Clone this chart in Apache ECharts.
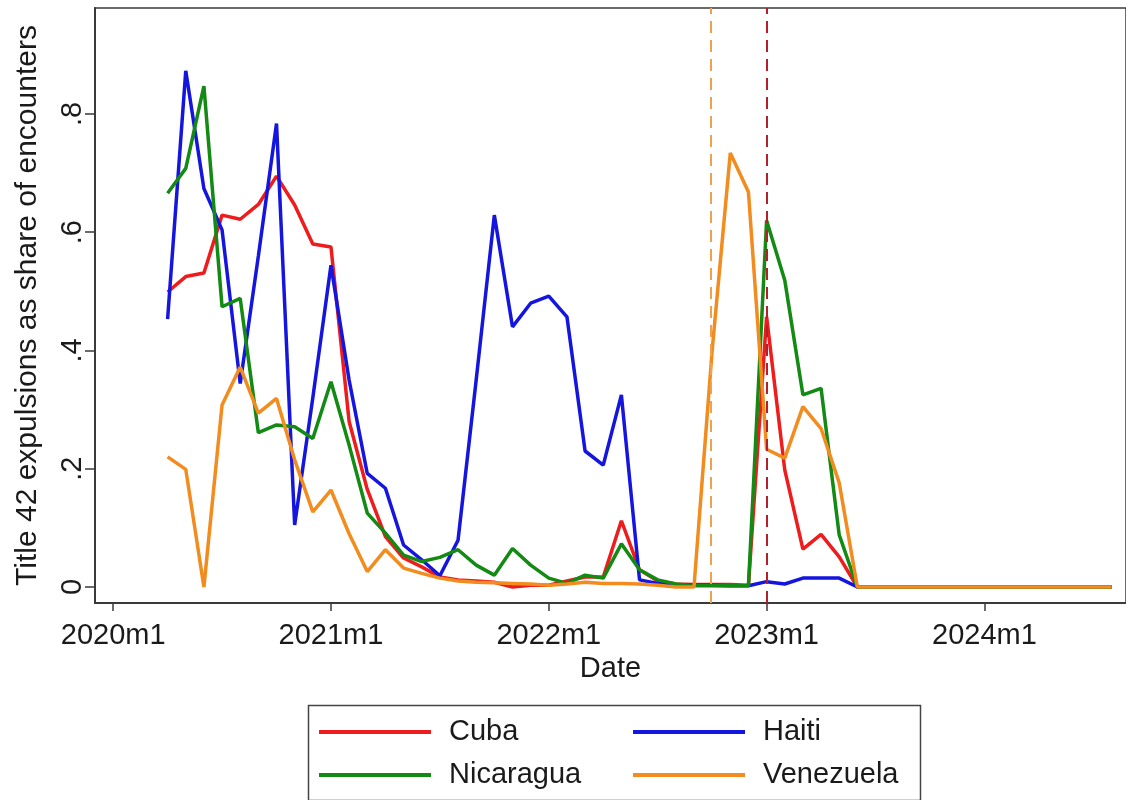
<!DOCTYPE html>
<html>
<head>
<meta charset="utf-8">
<script src="https://cdn.jsdelivr.net/npm/echarts@6/dist/echarts.min.js"></script>
<style>
  html, body { margin: 0; padding: 0; background: #fff; }
  #chart { width: 1126px; height: 800px; }
</style>
</head>
<body>
<div id="chart"></div>
<script>
// months 2020m4 .. 2024m8
const months = [
  '2020m4', '2020m5', '2020m6', '2020m7', '2020m8', '2020m9', '2020m10', '2020m11', '2020m12',
  '2021m1', '2021m2', '2021m3', '2021m4', '2021m5', '2021m6', '2021m7', '2021m8', '2021m9', '2021m10', '2021m11', '2021m12',
  '2022m1', '2022m2', '2022m3', '2022m4', '2022m5', '2022m6', '2022m7', '2022m8', '2022m9', '2022m10', '2022m11', '2022m12',
  '2023m1', '2023m2', '2023m3', '2023m4', '2023m5', '2023m6', '2023m7', '2023m8', '2023m9', '2023m10', '2023m11', '2023m12',
  '2024m1', '2024m2', '2024m3', '2024m4', '2024m5', '2024m6', '2024m7', '2024m8'
]

const cuba = [
  0.499, 0.525, 0.531, 0.629, 0.622, 0.647, 0.695, 0.646, 0.580,
  0.575, 0.28, 0.165, 0.085, 0.049, 0.034, 0.017, 0.012, 0.010, 0.008, 0.0, 0.003,
  0.003, 0.010, 0.017, 0.017, 0.112, 0.029, 0.010, 0.005, 0.004, 0.004, 0.004, 0.003,
  0.457, 0.198, 0.064, 0.089, 0.051, 0, 0, 0, 0, 0, 0, 0,
  0, 0, 0, 0, 0, 0, 0, 0
]
const haiti = [
  0.453, 0.873, 0.674, 0.604, 0.344, 0.56, 0.784, 0.105, 0.32,
  0.544, 0.35, 0.192, 0.167, 0.071, 0.046, 0.019, 0.079, 0.35, 0.629, 0.440, 0.480,
  0.492, 0.457, 0.230, 0.206, 0.325, 0.012, 0.006, 0.004, 0.003, 0.003, 0.002, 0.002,
  0.009, 0.005, 0.015, 0.015, 0.015, 0, 0, 0, 0, 0, 0, 0,
  0, 0, 0, 0, 0, 0, 0, 0
]
const nicaragua = [
  0.666, 0.708, 0.847, 0.474, 0.488, 0.261, 0.274, 0.271, 0.251,
  0.347, 0.24, 0.125, 0.091, 0.054, 0.043, 0.050, 0.063, 0.037, 0.020, 0.065, 0.037,
  0.015, 0.006, 0.020, 0.015, 0.073, 0.029, 0.012, 0.005, 0.002, 0.002, 0.002, 0.002,
  0.620, 0.519, 0.325, 0.336, 0.088, 0, 0, 0, 0, 0, 0, 0,
  0, 0, 0, 0, 0, 0, 0, 0
]
const venezuela = [
  0.220, 0.199, 0.0, 0.308, 0.372, 0.294, 0.319, 0.215, 0.127,
  0.164, 0.09, 0.026, 0.063, 0.032, 0.023, 0.015, 0.010, 0.008, 0.007, 0.006, 0.005,
  0.003, 0.005, 0.008, 0.006, 0.006, 0.005, 0.003, 0.0, 0.0, 0.40, 0.734, 0.668,
  0.233, 0.218, 0.305, 0.268, 0.176, 0, 0, 0, 0, 0, 0, 0,
  0, 0, 0, 0, 0, 0, 0, 0
]

// x ticks and policy dates (months since 2020m1)
const xTicks = [0, 12, 24, 36, 48]
const xTickLabels = ['2020m1', '2021m1', '2022m1', '2023m1', '2024m1']
const yTicks = [0, 0.2, 0.4, 0.6, 0.8]
const venezuelaPolicy = 32.9
const otherPolicy = 36

const FONT = 'Liberation Sans, Arial, Helvetica, sans-serif'

function monthIndex (s) {
  const [y, m] = s.split('m').map(Number)
  return (y - 2020) * 12 + (m - 1)
}
function pairs (vals) {
  return months.map((mo, i) => [monthIndex(mo), vals[i]])
}

function lineSeries (name, color, vals, extra) {
  return Object.assign({
    name: name,
    type: 'line',
    data: pairs(vals),
    symbol: 'none',
    showSymbol: false,
    lineStyle: { color: color, width: 3.5 },
    itemStyle: { color: color },
    animation: false
  }, extra || {})
}

const chart = echarts.init(document.getElementById('chart'))

const legendText = {
  fontFamily: FONT,
  fontSize: 29,
  color: '#1a1a1a',
  lineHeight: 30,
  padding: [0, 0, 0, 13]
}
const legendBase = {
  orient: 'vertical',
  top: 712,
  icon: 'rect',
  itemWidth: 112,
  itemHeight: 4,
  itemGap: 13,
  textStyle: legendText
}

const option = {
  backgroundColor: '#fff',
  animation: false,
  grid: {
    left: 95,
    top: 8,
    width: 1035,
    height: 595,
    show: true,
    borderColor: '#3a3a3a',
    borderWidth: 1.5,
    backgroundColor: '#fff'
  },
  xAxis: {
    type: 'value',
    min: -1,
    max: 55.8,
    name: 'Date',
    nameLocation: 'middle',
    nameGap: 49,
    nameTextStyle: { fontFamily: FONT, fontSize: 29, color: '#1a1a1a' },
    axisLine: { show: true, onZero: false, lineStyle: { color: '#3a3a3a', width: 2 } },
    axisTick: { show: true, length: 8, customValues: xTicks, lineStyle: { color: '#3a3a3a', width: 1.5 } },
    axisLabel: {
      customValues: xTicks,
      margin: 18,
      fontFamily: FONT,
      fontSize: 29,
      color: '#1a1a1a',
      formatter: function (v) {
        const i = xTicks.indexOf(v)
        return i >= 0 ? xTickLabels[i] : ''
      }
    },
    splitLine: { show: false }
  },
  yAxis: {
    type: 'value',
    min: -0.0271,
    max: 0.9793,
    name: 'Title 42 expulsions as share of encounters',
    nameLocation: 'middle',
    nameGap: 52,
    nameRotate: 90,
    nameTextStyle: { fontFamily: FONT, fontSize: 30, color: '#1a1a1a' },
    axisLine: { show: true, onZero: false, lineStyle: { color: '#3a3a3a', width: 2 } },
    axisTick: { show: true, length: 10, customValues: yTicks, lineStyle: { color: '#3a3a3a', width: 1.5 } },
    axisLabel: {
      customValues: yTicks,
      rotate: 90,
      margin: 8,
      fontFamily: FONT,
      fontSize: 29,
      color: '#1a1a1a',
      formatter: function (v) {
        return v === 0 ? '0' : String(v).replace(/^0/, '')
      }
    },
    splitLine: { show: false }
  },
  legend: [
    Object.assign({ data: ['Cuba', 'Nicaragua'], left: 314 }, legendBase),
    Object.assign({ data: ['Haiti', 'Venezuela'], left: 628 }, legendBase)
  ],
  graphic: [
    {
      type: 'rect',
      left: 306,
      top: 703,
      shape: { width: 612, height: 95 },
      style: { fill: 'none', stroke: '#444', lineWidth: 1.5 },
      silent: true
    }
  ],
  series: [
    lineSeries('Cuba', '#ee1c1c', cuba, {
      markLine: {
        silent: true,
        symbol: 'none',
        label: { show: false },
        lineStyle: { color: '#b3202c', type: [12, 7], width: 2 },
        data: [{ xAxis: otherPolicy }]
      }
    }),
    lineSeries('Haiti', '#1515e0', haiti),
    lineSeries('Nicaragua', '#138a13', nicaragua),
    lineSeries('Venezuela', '#f28c1e', venezuela, {
      markLine: {
        silent: true,
        symbol: 'none',
        label: { show: false },
        lineStyle: { color: '#eea24e', type: [12, 7], width: 2 },
        data: [{ xAxis: venezuelaPolicy }]
      }
    })
  ]
}

chart.setOption(option)
</script>
</body>
</html>
